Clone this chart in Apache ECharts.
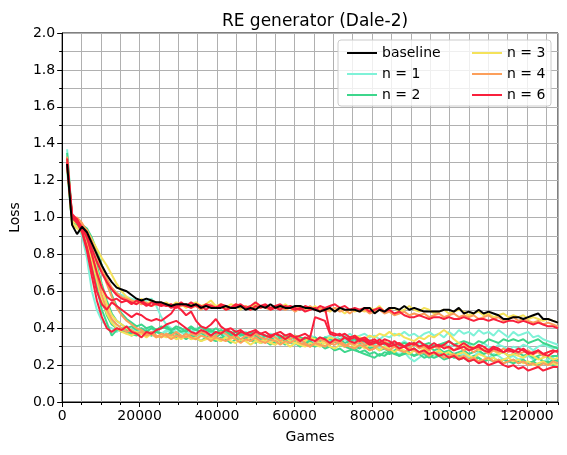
<!DOCTYPE html>
<html>
<head>
<meta charset="utf-8">
<script src="https://cdn.jsdelivr.net/npm/echarts@6/dist/echarts.min.js"></script>
<style>
  html, body { margin: 0; padding: 0; background: #fff; }
  #chart { width: 567px; height: 455px; }
</style>
</head>
<body>
<div id="chart"></div>
<script>
// x positions (games played) shared by every run
var games = [1280,2560,3840,5120,6400,7680,8960,10240,11520,12800,
  14080,15360,16640,17920,19200,20480,21760,23040,24320,25600,
  26880,28160,29440,30720,32000,33280,34560,35840,37120,38400,
  39680,40960,42240,43520,44800,46080,47360,48640,49920,51200,
  52480,53760,55040,56320,57600,58880,60160,61440,62720,64000,
  65280,66560,67840,69120,70400,71680,72960,74240,75520,76800,
  78080,79360,80640,81920,83200,84480,85760,87040,88320,89600,
  90880,92160,93440,94720,96000,97280,98560,99840,101120,102400,
  103680,104960,106240,107520,108800,110080,111360,112640,113920,115200,
  116480,117760,119040,120320,121600,122880,124160,125440,126720,128000];

var baseline = [1.29,0.96,0.91,0.95,0.92,0.86,0.80,0.74,0.69,0.65,
  0.62,0.61,0.60,0.58,0.56,0.55,0.56,0.55,0.54,0.54,
  0.53,0.52,0.53,0.53,0.53,0.52,0.53,0.51,0.52,0.51,
  0.51,0.51,0.52,0.51,0.51,0.52,0.50,0.51,0.50,0.52,
  0.51,0.53,0.51,0.52,0.51,0.51,0.52,0.52,0.51,0.51,
  0.50,0.49,0.50,0.51,0.49,0.51,0.50,0.50,0.50,0.49,
  0.51,0.51,0.48,0.50,0.49,0.51,0.51,0.50,0.52,0.50,
  0.51,0.50,0.49,0.49,0.49,0.49,0.50,0.50,0.49,0.51,
  0.48,0.49,0.48,0.50,0.48,0.49,0.48,0.47,0.45,0.45,
  0.46,0.46,0.45,0.46,0.47,0.48,0.45,0.45,0.44,0.43];

// n = 1
var n1a = [1.37,1.00,0.96,0.90,0.78,0.60,0.50,0.44,0.41,0.40,
  0.38,0.40,0.37,0.39,0.38,0.40,0.37,0.38,0.39,0.37,
  0.38,0.39,0.37,0.38,0.36,0.38,0.39,0.37,0.36,0.38,
  0.37,0.38,0.36,0.37,0.39,0.36,0.37,0.35,0.37,0.36,
  0.35,0.37,0.36,0.34,0.36,0.35,0.33,0.35,0.34,0.36,
  0.35,0.33,0.35,0.36,0.34,0.36,0.35,0.37,0.35,0.36,
  0.37,0.35,0.36,0.34,0.36,0.35,0.37,0.36,0.38,0.36,
  0.37,0.35,0.37,0.38,0.36,0.37,0.35,0.38,0.36,0.39,
  0.37,0.38,0.36,0.39,0.37,0.38,0.36,0.39,0.37,0.35,
  0.38,0.36,0.37,0.38,0.35,0.36,0.34,0.33,0.32,0.31];
var n1b = [1.32,0.98,0.96,0.95,0.90,0.83,0.76,0.70,0.65,0.62,
  0.59,0.58,0.57,0.56,0.55,0.54,0.55,0.56,0.52,0.46,
  0.42,0.40,0.38,0.39,0.37,0.38,0.40,0.38,0.37,0.39,
  0.38,0.37,0.39,0.38,0.36,0.37,0.38,0.36,0.35,0.37,
  0.36,0.34,0.35,0.33,0.34,0.32,0.31,0.33,0.32,0.34,
  0.33,0.35,0.34,0.33,0.35,0.34,0.36,0.34,0.35,0.33,
  0.32,0.30,0.31,0.29,0.30,0.28,0.27,0.26,0.27,0.24,
  0.22,0.24,0.26,0.25,0.26,0.27,0.25,0.26,0.24,0.25,
  0.26,0.24,0.25,0.27,0.25,0.24,0.26,0.25,0.23,0.24,
  0.25,0.23,0.24,0.25,0.23,0.24,0.22,0.23,0.24,0.22];
var n1c = [1.25,0.97,0.99,0.93,0.86,0.74,0.64,0.55,0.48,0.44,
  0.42,0.40,0.41,0.39,0.40,0.38,0.39,0.40,0.38,0.37,
  0.39,0.38,0.37,0.38,0.36,0.37,0.35,0.37,0.36,0.38,
  0.36,0.37,0.35,0.36,0.34,0.36,0.37,0.35,0.36,0.34,
  0.35,0.33,0.34,0.36,0.34,0.33,0.35,0.34,0.32,0.33,
  0.34,0.32,0.33,0.31,0.33,0.32,0.34,0.32,0.33,0.31,
  0.32,0.34,0.31,0.33,0.32,0.30,0.32,0.31,0.33,0.31,
  0.30,0.32,0.31,0.29,0.31,0.30,0.32,0.30,0.31,0.29,
  0.30,0.31,0.29,0.30,0.32,0.30,0.29,0.31,0.30,0.28,
  0.30,0.29,0.31,0.30,0.28,0.30,0.31,0.30,0.29,0.30];

// n = 2
var n2a = [1.35,1.00,0.97,0.95,0.88,0.76,0.62,0.50,0.43,0.36,
  0.39,0.40,0.38,0.36,0.38,0.37,0.39,0.36,0.38,0.37,
  0.36,0.38,0.37,0.35,0.37,0.34,0.36,0.38,0.35,0.36,
  0.35,0.37,0.34,0.36,0.35,0.33,0.35,0.34,0.32,0.34,
  0.33,0.34,0.32,0.33,0.31,0.33,0.32,0.30,0.32,0.31,
  0.30,0.31,0.29,0.30,0.28,0.29,0.27,0.28,0.29,0.27,
  0.28,0.26,0.27,0.25,0.27,0.26,0.27,0.25,0.26,0.27,
  0.25,0.26,0.24,0.25,0.24,0.25,0.23,0.24,0.25,0.23,
  0.24,0.22,0.23,0.24,0.22,0.23,0.22,0.23,0.21,0.22,
  0.23,0.21,0.22,0.21,0.22,0.20,0.21,0.22,0.20,0.21];
var n2b = [1.30,0.98,0.96,0.96,0.92,0.84,0.74,0.64,0.55,0.48,
  0.44,0.42,0.40,0.41,0.39,0.40,0.38,0.40,0.39,0.41,
  0.40,0.39,0.41,0.40,0.38,0.40,0.39,0.41,0.39,0.38,
  0.40,0.38,0.39,0.37,0.38,0.36,0.37,0.38,0.36,0.37,
  0.36,0.35,0.37,0.35,0.36,0.34,0.36,0.35,0.34,0.35,
  0.34,0.33,0.35,0.34,0.33,0.34,0.32,0.33,0.34,0.32,
  0.33,0.31,0.32,0.33,0.31,0.32,0.30,0.31,0.32,0.31,
  0.32,0.30,0.31,0.32,0.30,0.31,0.32,0.33,0.31,0.32,
  0.33,0.32,0.31,0.33,0.32,0.34,0.33,0.32,0.34,0.33,
  0.34,0.33,0.34,0.32,0.33,0.34,0.32,0.31,0.30,0.29];
var n2c = [1.28,0.97,0.98,0.94,0.90,0.80,0.68,0.56,0.47,0.42,
  0.40,0.38,0.39,0.37,0.36,0.38,0.37,0.36,0.38,0.37,
  0.36,0.37,0.35,0.36,0.34,0.36,0.35,0.33,0.35,0.34,
  0.33,0.35,0.34,0.32,0.34,0.33,0.35,0.33,0.34,0.32,
  0.33,0.31,0.33,0.32,0.34,0.32,0.33,0.31,0.32,0.33,
  0.31,0.32,0.30,0.31,0.33,0.31,0.30,0.32,0.30,0.29,
  0.31,0.29,0.30,0.28,0.29,0.27,0.28,0.29,0.27,0.28,
  0.29,0.27,0.28,0.30,0.28,0.29,0.27,0.28,0.26,0.27,
  0.28,0.26,0.27,0.28,0.26,0.27,0.25,0.26,0.27,0.25,
  0.26,0.27,0.25,0.26,0.24,0.25,0.26,0.24,0.25,0.25];
var n2d = [1.33,0.99,0.98,0.96,0.94,0.89,0.82,0.74,0.66,0.58,
  0.52,0.48,0.45,0.43,0.41,0.42,0.40,0.41,0.39,0.40,
  0.41,0.39,0.40,0.38,0.39,0.41,0.39,0.38,0.40,0.39,
  0.37,0.39,0.38,0.36,0.38,0.37,0.35,0.37,0.36,0.34,
  0.36,0.35,0.33,0.35,0.34,0.36,0.34,0.35,0.33,0.34,
  0.35,0.33,0.34,0.32,0.33,0.31,0.30,0.29,0.28,0.27,
  0.26,0.25,0.24,0.26,0.25,0.27,0.26,0.25,0.27,0.26,
  0.25,0.27,0.26,0.24,0.26,0.25,0.27,0.26,0.24,0.25,
  0.24,0.23,0.25,0.24,0.22,0.23,0.24,0.22,0.23,0.22,
  0.21,0.22,0.23,0.21,0.22,0.24,0.22,0.21,0.23,0.22];

// n = 3
var n3a = [1.30,0.97,0.95,0.96,0.93,0.88,0.83,0.78,0.74,0.69,
  0.64,0.60,0.57,0.55,0.54,0.56,0.53,0.55,0.54,0.53,
  0.54,0.52,0.54,0.53,0.51,0.53,0.54,0.52,0.53,0.55,
  0.52,0.53,0.51,0.53,0.52,0.50,0.52,0.51,0.53,0.51,
  0.52,0.50,0.52,0.51,0.53,0.51,0.50,0.52,0.51,0.50,
  0.52,0.50,0.51,0.49,0.51,0.50,0.48,0.50,0.49,0.50,
  0.49,0.51,0.50,0.52,0.49,0.50,0.51,0.49,0.50,0.52,
  0.50,0.49,0.51,0.50,0.48,0.49,0.50,0.48,0.49,0.50,
  0.49,0.47,0.48,0.49,0.47,0.48,0.46,0.47,0.48,0.46,
  0.47,0.46,0.47,0.45,0.46,0.45,0.44,0.45,0.44,0.43];
var n3b = [1.31,0.96,0.94,0.92,0.86,0.77,0.66,0.56,0.48,0.43,
  0.40,0.38,0.37,0.36,0.38,0.37,0.35,0.37,0.36,0.35,
  0.37,0.35,0.36,0.34,0.36,0.35,0.34,0.36,0.35,0.34,
  0.35,0.33,0.35,0.34,0.36,0.34,0.33,0.35,0.34,0.33,
  0.34,0.32,0.34,0.33,0.35,0.33,0.32,0.34,0.33,0.35,
  0.34,0.32,0.33,0.35,0.34,0.33,0.35,0.34,0.36,0.35,
  0.34,0.36,0.35,0.37,0.36,0.38,0.36,0.37,0.35,0.34,
  0.33,0.35,0.34,0.36,0.35,0.37,0.39,0.37,0.34,0.32,
  0.31,0.29,0.30,0.28,0.29,0.27,0.28,0.26,0.27,0.25,
  0.26,0.25,0.24,0.26,0.25,0.23,0.24,0.25,0.23,0.24];
var n3c = [1.27,0.98,0.97,0.95,0.90,0.82,0.72,0.62,0.53,0.47,
  0.44,0.42,0.40,0.39,0.37,0.38,0.36,0.37,0.35,0.36,
  0.35,0.36,0.34,0.35,0.36,0.34,0.35,0.33,0.34,0.35,
  0.34,0.33,0.35,0.33,0.32,0.34,0.33,0.31,0.33,0.32,
  0.33,0.32,0.31,0.33,0.32,0.30,0.32,0.31,0.30,0.32,
  0.31,0.30,0.32,0.30,0.29,0.31,0.30,0.32,0.30,0.31,
  0.29,0.31,0.30,0.28,0.30,0.29,0.27,0.29,0.28,0.26,
  0.28,0.27,0.29,0.27,0.26,0.28,0.26,0.27,0.25,0.26,
  0.27,0.25,0.24,0.26,0.25,0.23,0.24,0.22,0.23,0.24,
  0.22,0.23,0.21,0.22,0.20,0.21,0.22,0.20,0.21,0.20];

// n = 4
var n4a = [1.29,0.99,1.00,0.97,0.92,0.86,0.79,0.72,0.67,0.62,
  0.59,0.57,0.56,0.55,0.54,0.53,0.54,0.52,0.53,0.54,
  0.52,0.53,0.51,0.52,0.53,0.51,0.52,0.50,0.52,0.53,
  0.51,0.52,0.50,0.51,0.53,0.51,0.52,0.50,0.51,0.52,
  0.51,0.50,0.52,0.51,0.50,0.51,0.49,0.51,0.50,0.52,
  0.50,0.51,0.49,0.50,0.51,0.49,0.50,0.48,0.50,0.49,
  0.50,0.48,0.49,0.50,0.48,0.49,0.47,0.48,0.49,0.47,
  0.48,0.47,0.48,0.46,0.47,0.48,0.46,0.47,0.48,0.46,
  0.47,0.46,0.47,0.45,0.46,0.47,0.45,0.46,0.44,0.45,
  0.46,0.44,0.45,0.44,0.43,0.44,0.42,0.43,0.42,0.41];
var n4b = [1.30,1.00,0.98,0.95,0.89,0.80,0.69,0.58,0.50,0.45,
  0.42,0.40,0.38,0.39,0.37,0.38,0.36,0.37,0.35,0.37,
  0.36,0.34,0.36,0.35,0.37,0.35,0.34,0.36,0.35,0.33,
  0.35,0.34,0.33,0.35,0.34,0.32,0.34,0.33,0.35,0.33,
  0.32,0.34,0.33,0.31,0.33,0.32,0.34,0.32,0.31,0.30,
  0.32,0.31,0.30,0.32,0.31,0.33,0.31,0.30,0.29,0.31,
  0.30,0.28,0.29,0.31,0.29,0.28,0.30,0.28,0.27,0.29,
  0.28,0.26,0.27,0.25,0.27,0.26,0.24,0.25,0.26,0.24,
  0.25,0.23,0.24,0.22,0.23,0.24,0.22,0.23,0.21,0.22,
  0.23,0.21,0.22,0.20,0.21,0.19,0.21,0.20,0.22,0.21];
var n4c = [1.33,1.01,0.99,0.96,0.93,0.87,0.80,0.72,0.64,0.57,
  0.51,0.47,0.44,0.42,0.40,0.39,0.37,0.38,0.36,0.35,
  0.37,0.36,0.38,0.36,0.35,0.37,0.36,0.38,0.37,0.35,
  0.36,0.38,0.37,0.35,0.36,0.34,0.36,0.35,0.37,0.35,
  0.34,0.36,0.35,0.33,0.35,0.34,0.36,0.34,0.32,0.30,
  0.32,0.34,0.33,0.31,0.33,0.32,0.30,0.32,0.31,0.33,
  0.31,0.32,0.30,0.31,0.33,0.31,0.30,0.32,0.30,0.29,
  0.31,0.29,0.30,0.28,0.30,0.29,0.31,0.29,0.28,0.30,
  0.28,0.29,0.27,0.29,0.28,0.26,0.28,0.27,0.29,0.27,
  0.28,0.26,0.27,0.28,0.26,0.27,0.25,0.27,0.28,0.27];

// n = 6
var n6a = [1.28,1.01,0.99,0.94,0.90,0.83,0.76,0.70,0.65,0.61,
  0.58,0.56,0.55,0.54,0.53,0.55,0.53,0.52,0.54,0.53,
  0.52,0.53,0.51,0.53,0.52,0.54,0.52,0.51,0.53,0.52,
  0.51,0.53,0.52,0.51,0.52,0.53,0.51,0.52,0.54,0.52,
  0.53,0.51,0.52,0.53,0.51,0.52,0.51,0.50,0.52,0.51,
  0.50,0.52,0.51,0.52,0.53,0.51,0.52,0.50,0.51,0.50,
  0.51,0.49,0.50,0.51,0.49,0.50,0.48,0.49,0.47,0.46,
  0.46,0.47,0.46,0.45,0.46,0.46,0.45,0.46,0.45,0.45,
  0.46,0.45,0.44,0.45,0.45,0.44,0.45,0.44,0.43,0.44,
  0.44,0.43,0.44,0.43,0.42,0.43,0.42,0.41,0.41,0.40];
var n6b = [1.29,1.00,0.98,0.95,0.89,0.80,0.70,0.62,0.57,0.55,
  0.56,0.54,0.55,0.53,0.55,0.54,0.52,0.54,0.53,0.52,
  0.53,0.51,0.52,0.54,0.52,0.51,0.53,0.52,0.50,0.52,
  0.51,0.52,0.50,0.51,0.53,0.52,0.51,0.50,0.52,0.51,
  0.52,0.50,0.51,0.50,0.52,0.51,0.50,0.51,0.49,0.50,
  0.51,0.49,0.51,0.38,0.37,0.36,0.37,0.35,0.36,0.34,
  0.35,0.33,0.34,0.32,0.34,0.33,0.31,0.32,0.30,0.31,
  0.32,0.30,0.31,0.29,0.30,0.31,0.29,0.30,0.28,0.29,
  0.30,0.28,0.29,0.30,0.28,0.27,0.29,0.28,0.27,0.28,
  0.27,0.29,0.28,0.26,0.27,0.28,0.26,0.27,0.28,0.27];
var n6c = [1.30,1.02,0.99,0.93,0.84,0.72,0.60,0.53,0.50,0.54,
  0.52,0.50,0.48,0.46,0.48,0.47,0.45,0.44,0.45,0.44,
  0.46,0.48,0.52,0.50,0.47,0.49,0.44,0.41,0.40,0.42,
  0.45,0.41,0.39,0.40,0.38,0.39,0.37,0.38,0.39,0.37,
  0.38,0.36,0.37,0.38,0.36,0.37,0.35,0.36,0.37,0.35,
  0.46,0.45,0.44,0.37,0.36,0.37,0.35,0.34,0.35,0.33,
  0.34,0.32,0.33,0.31,0.32,0.30,0.31,0.29,0.30,0.28,
  0.29,0.27,0.28,0.26,0.27,0.25,0.26,0.24,0.25,0.23,
  0.24,0.22,0.23,0.21,0.22,0.20,0.21,0.22,0.20,0.19,
  0.20,0.18,0.19,0.17,0.18,0.19,0.17,0.18,0.19,0.19];
var n6d = [1.32,1.00,0.97,0.92,0.82,0.68,0.55,0.46,0.40,0.38,
  0.40,0.39,0.41,0.38,0.37,0.35,0.38,0.37,0.39,0.40,
  0.42,0.43,0.44,0.42,0.40,0.38,0.37,0.39,0.38,0.36,
  0.38,0.37,0.39,0.38,0.36,0.38,0.37,0.36,0.38,0.37,
  0.36,0.35,0.37,0.36,0.34,0.36,0.35,0.33,0.35,0.34,
  0.33,0.35,0.34,0.32,0.34,0.33,0.35,0.33,0.32,0.34,
  0.33,0.31,0.32,0.34,0.32,0.31,0.33,0.31,0.30,0.32,
  0.31,0.33,0.31,0.30,0.32,0.30,0.31,0.33,0.31,0.30,
  0.32,0.30,0.29,0.31,0.30,0.28,0.30,0.29,0.27,0.29,
  0.28,0.27,0.29,0.27,0.26,0.28,0.26,0.25,0.27,0.28];

var groups = [
  { name: 'n = 1', color: '#7ff2d8', runs: [n1a, n1b, n1c] },
  { name: 'n = 2', color: '#3dd68c', runs: [n2a, n2b, n2c, n2d] },
  { name: 'n = 3', color: '#f4e25a', runs: [n3a, n3b, n3c] },
  { name: 'n = 4', color: '#fc9f5b', runs: [n4a, n4b, n4c] },
  { name: 'n = 6', color: '#f9203c', runs: [n6a, n6b, n6c, n6d] }
];

function pairs(ys) {
  return games.map(function (g, i) { return [g, ys[i]]; });
}

var font = 'DejaVu Sans';
var series = [];
groups.forEach(function (grp) {
  grp.runs.forEach(function (run) {
    series.push({
      name: grp.name,
      type: 'line',
      xAxisIndex: 0,
      symbol: 'none',
      data: pairs(run),
      color: grp.color,
      lineStyle: { color: grp.color, width: 2 },
      z: 2,
      animation: false
    });
  });
});
series.unshift({
  name: 'baseline',
  type: 'line',
  xAxisIndex: 0,
  symbol: 'none',
  data: pairs(baseline),
  color: '#000000',
  lineStyle: { color: '#000000', width: 2 },
  z: 3,
  animation: false
});

var legendBase = {
  orient: 'vertical',
  top: 41,
  icon: 'rect',
  itemWidth: 30,
  itemHeight: 2,
  itemGap: 7,
  textStyle: { fontFamily: font, fontSize: 14, color: '#000', lineHeight: 14 },
  inactiveColor: '#ccc',
  z: 5
};

var myChart = echarts.init(document.getElementById('chart'));
var option = {
  backgroundColor: '#fff',
  animation: false,
  textStyle: { fontFamily: font },
  title: {
    text: 'RE generator (Dale-2)',
    left: 310,
    top: 8,
    textAlign: 'center',
    textStyle: { fontFamily: font, fontSize: 17, fontWeight: 'normal', color: '#000' }
  },
  legend: [
    Object.assign({}, legendBase, { left: 342, data: ['baseline', 'n = 1', 'n = 2'] }),
    Object.assign({}, legendBase, { left: 467, data: ['n = 3', 'n = 4', 'n = 6'] })
  ],
  graphic: [{
    type: 'rect',
    z: 4,
    shape: { x: 338, y: 40, width: 213, height: 66, r: 3 },
    style: { fill: 'rgba(255,255,255,0.8)', stroke: '#cccccc', lineWidth: 1 }
  }],
  grid: {
    left: 62, right: 9, top: 33, bottom: 53,
    show: true, borderColor: '#000', borderWidth: 1, backgroundColor: 'transparent'
  },
  xAxis: [{
    // minor grid / minor ticks every 5000
    type: 'value', min: 0, max: 128000, interval: 5000,
    axisLine: { show: true, lineStyle: { color: '#000' } },
    axisTick: { show: true, length: 3, inside: false, lineStyle: { color: '#000' } },
    axisLabel: { show: false },
    splitLine: { show: true, lineStyle: { color: '#b0b0b0', width: 1 } }
  }, {
    type: 'value', min: 0, max: 128000, interval: 20000, position: 'bottom',
    name: 'Games', nameLocation: 'middle', nameGap: 28,
    nameTextStyle: { fontFamily: font, fontSize: 14, color: '#000' },
    axisLine: { show: false },
    axisTick: { show: true, length: 5, lineStyle: { color: '#000' } },
    axisLabel: {
      fontFamily: font, fontSize: 14, color: '#000', margin: 7, showMaxLabel: false,
      formatter: function (v) { return String(v); }
    },
    splitLine: { show: false }
  }],
  yAxis: {
    type: 'value', min: 0, max: 2, interval: 0.2,
    name: 'Loss', nameLocation: 'middle', nameGap: 38,
    nameTextStyle: { fontFamily: font, fontSize: 14, color: '#000' },
    axisLine: { show: true, lineStyle: { color: '#000' } },
    axisTick: { show: true, length: 5, lineStyle: { color: '#000' } },
    minorTick: { show: true, splitNumber: 2, length: 3, lineStyle: { color: '#000' } },
    axisLabel: {
      fontFamily: font, fontSize: 14, color: '#000', margin: 7,
      formatter: function (v) { return v.toFixed(1); }
    },
    splitLine: { show: true, lineStyle: { color: '#b0b0b0', width: 1 } },
    minorSplitLine: { show: true, lineStyle: { color: '#b0b0b0', width: 1 } }
  },
  series: series
};
myChart.setOption(option);
</script>
</body>
</html>
